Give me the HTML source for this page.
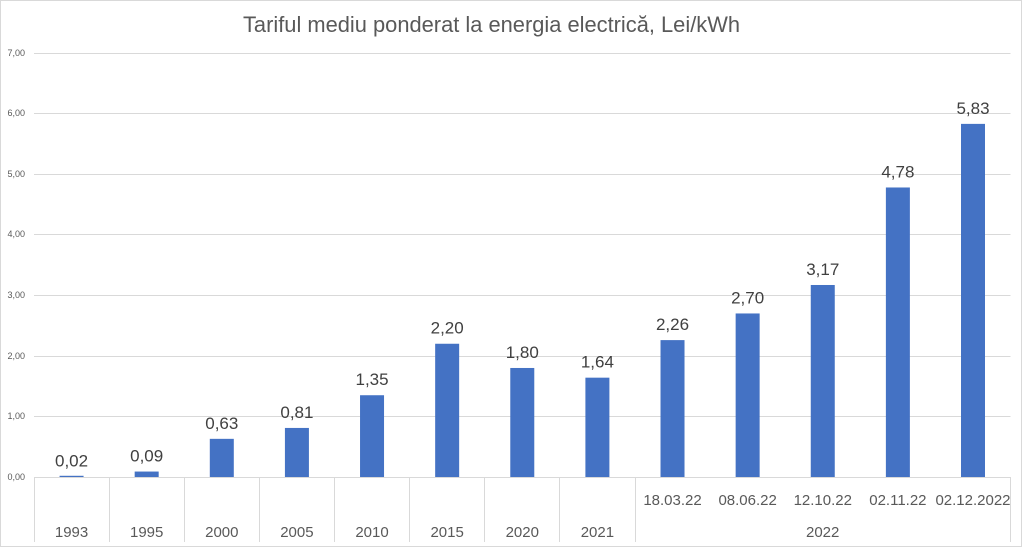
<!DOCTYPE html>
<html><head><meta charset="utf-8"><style>
html,body{margin:0;padding:0;background:#fff;}
svg{display:block;}
text{font-family:"Liberation Sans",sans-serif;}
</style></head><body>
<svg width="1023" height="548" viewBox="0 0 1023 548" xmlns="http://www.w3.org/2000/svg">
<rect x="0.5" y="0.5" width="1021" height="546" fill="#fff" stroke="#d9d9d9" stroke-width="1"/>
<text x="243" y="32" font-size="22" fill="#595959" textLength="497" lengthAdjust="spacingAndGlyphs">Tariful mediu ponderat la energia electrică, Lei/kWh</text>
<g stroke="#d9d9d9" stroke-width="1">
<line x1="34" y1="53.5" x2="1010.5" y2="53.5"/>
<line x1="34" y1="113.5" x2="1010.5" y2="113.5"/>
<line x1="34" y1="174.5" x2="1010.5" y2="174.5"/>
<line x1="34" y1="234.5" x2="1010.5" y2="234.5"/>
<line x1="34" y1="295.5" x2="1010.5" y2="295.5"/>
<line x1="34" y1="356.5" x2="1010.5" y2="356.5"/>
<line x1="34" y1="416.5" x2="1010.5" y2="416.5"/>
<line x1="34" y1="477.5" x2="1010.5" y2="477.5"/>
<line x1="34.5" y1="477" x2="34.5" y2="542"/>
<line x1="109.5" y1="477" x2="109.5" y2="542"/>
<line x1="184.5" y1="477" x2="184.5" y2="542"/>
<line x1="259.5" y1="477" x2="259.5" y2="542"/>
<line x1="334.5" y1="477" x2="334.5" y2="542"/>
<line x1="409.5" y1="477" x2="409.5" y2="542"/>
<line x1="484.5" y1="477" x2="484.5" y2="542"/>
<line x1="559.5" y1="477" x2="559.5" y2="542"/>
<line x1="635.5" y1="477" x2="635.5" y2="542"/>
<line x1="1010.5" y1="477" x2="1010.5" y2="542"/>
</g>
<g font-size="9" fill="#595959" text-anchor="end">
<text x="25" y="56">7,00</text>
<text x="25" y="116">6,00</text>
<text x="25" y="177">5,00</text>
<text x="25" y="237">4,00</text>
<text x="25" y="298">3,00</text>
<text x="25" y="359">2,00</text>
<text x="25" y="419">1,00</text>
<text x="25" y="480">0,00</text>
</g>
<g fill="#4472c4">
<rect x="59.56" y="475.79" width="24" height="1.21"/>
<rect x="134.68" y="471.55" width="24" height="5.45"/>
<rect x="209.8" y="438.84" width="24" height="38.16"/>
<rect x="284.92" y="427.94" width="24" height="49.06"/>
<rect x="360.04" y="395.23" width="24" height="81.77"/>
<rect x="435.16" y="343.75" width="24" height="133.25"/>
<rect x="510.28" y="367.97" width="24" height="109.03"/>
<rect x="585.4" y="377.67" width="24" height="99.33"/>
<rect x="660.52" y="340.11" width="24" height="136.89"/>
<rect x="735.64" y="313.46" width="24" height="163.54"/>
<rect x="810.76" y="284.99" width="24" height="192.01"/>
<rect x="885.88" y="187.48" width="24" height="289.52"/>
<rect x="961" y="123.88" width="24" height="353.12"/>
</g>
<g font-size="17" fill="#404040" text-anchor="middle">
<text x="71.56" y="466.5">0,02</text>
<text x="146.68" y="461.5">0,09</text>
<text x="221.8" y="429">0,63</text>
<text x="296.92" y="418">0,81</text>
<text x="372.04" y="385.2">1,35</text>
<text x="447.16" y="333.7">2,20</text>
<text x="522.28" y="358">1,80</text>
<text x="597.4" y="367.7">1,64</text>
<text x="672.52" y="330.1">2,26</text>
<text x="747.64" y="303.5">2,70</text>
<text x="822.76" y="275">3,17</text>
<text x="897.88" y="177.5">4,78</text>
<text x="973" y="113.9">5,83</text>
</g>
<g font-size="15" fill="#595959" text-anchor="middle">
<text x="71.56" y="537">1993</text>
<text x="146.68" y="537">1995</text>
<text x="221.8" y="537">2000</text>
<text x="296.92" y="537">2005</text>
<text x="372.04" y="537">2010</text>
<text x="447.16" y="537">2015</text>
<text x="522.28" y="537">2020</text>
<text x="597.4" y="537">2021</text>
<text x="672.52" y="505">18.03.22</text>
<text x="747.64" y="505">08.06.22</text>
<text x="822.76" y="505">12.10.22</text>
<text x="897.88" y="505">02.11.22</text>
<text x="973" y="505">02.12.2022</text>
<text x="822.7" y="537">2022</text>
</g>
</svg>
</body></html>
